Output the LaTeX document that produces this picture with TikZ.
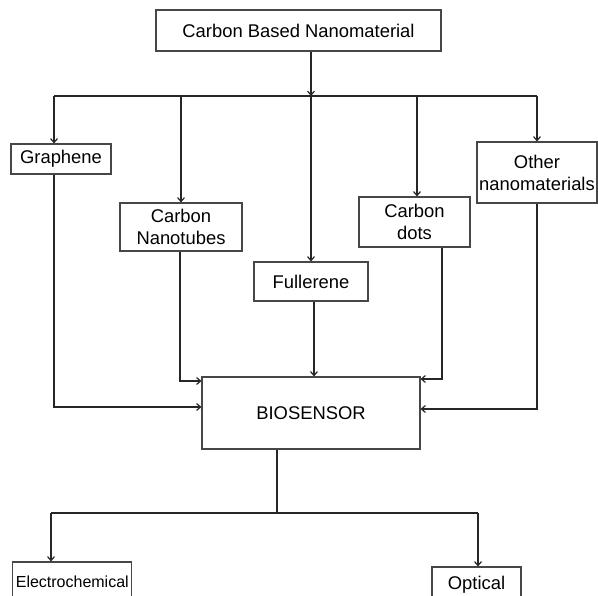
\documentclass[tikz,border=0pt]{standalone}
\usepackage{fontspec}
\setmainfont{Liberation Sans}
\usetikzlibrary{arrows.meta,calc}
\begin{document}
\begin{tikzpicture}[x=1pt,y=-1pt,
  box/.style={draw=black!72, line width=1.1pt, inner sep=0pt, align=center,
    font=\fontsize{18.4}{22}\selectfont, text=black},
  conn/.style={draw=black!85, line width=1.2pt},
  arr/.style={conn, -{Straight Barb[length=4pt,width=7pt]}}]
\clip (0,0) rectangle (598,596);
% nodes
\node[box, minimum width=285pt, minimum height=41pt] (top) at (298.5,30.5) {Carbon Based Nanomaterial};
\node[box, minimum width=100pt, minimum height=30pt] (gra) at (61,159) {Graphene};
\node[box, minimum width=122pt, minimum height=48pt] (cnt) at (181,227) {Carbon\\Nanotubes};
\node[box, minimum width=114pt, minimum height=39pt] (ful) at (311,281.5) {Fullerene};
\node[box, minimum width=111pt, minimum height=50pt] (dots) at (414.5,222) {Carbon\\dots};
\node[box, minimum width=120pt, minimum height=61pt] (oth) at (537,172.5) {Other\\nanomaterials};
\node[box, minimum width=218pt, minimum height=72pt] (bio) at (311,413) {BIOSENSOR};
\node[box, minimum width=119pt, minimum height=40pt, font=\fontsize{16}{20}\selectfont] (ele) at (72.3,582) {Electrochemical};
\node[box, minimum width=89pt, minimum height=36pt] (opt) at (476.5,585) {Optical};
% bus coordinates
\coordinate (busL) at (54,96);
\coordinate (busR) at (537,96);
\coordinate (bus2L) at (51,513);
\coordinate (bus2R) at (478,513);
\coordinate (bus2M) at (277,513);
% top to bus
\draw[arr] (top.south -| ful.north) -- (ful.north |- busL);
\draw[conn] (busL) -- (busR);
\draw[arr] (busL) -- (busL |- gra.north);
\draw[arr] (busL -| cnt.north) -- (cnt.north);
\draw[arr] (busL -| ful.north) -- (ful.north);
\coordinate (dtop) at ($(dots.north)+(2.5,0)$);
\draw[arr] (busL -| dtop) -- (dtop);
\draw[arr] (busR) -- (oth.north);
% into biosensor
\coordinate (gj) at (54,407);
\draw[arr] (gra.south -| gj) -- (gj) -- (gj -| bio.west);
\coordinate (cj) at (180,381);
\draw[arr] (cnt.south -| cj) -- (cj) -- (cj -| bio.west);
\coordinate (fj) at (314,377);
\draw[arr] (ful.south -| fj) -- (bio.north -| fj);
\coordinate (dj) at (442,379);
\draw[arr] (dots.south -| dj) -- (dj) -- (dj -| bio.east);
\coordinate (oj) at (537,409);
\draw[arr] (oth.south) -- (oj) -- (oj -| bio.east);
% biosensor to outputs
\draw[conn] (bio.south -| bus2M) -- (bus2M);
\draw[conn] (bus2L) -- (bus2R);
\draw[arr] (bus2L) -- (bus2L |- ele.north);
\draw[arr] (bus2R) -- (bus2R |- opt.north);
\end{tikzpicture}
\end{document}
